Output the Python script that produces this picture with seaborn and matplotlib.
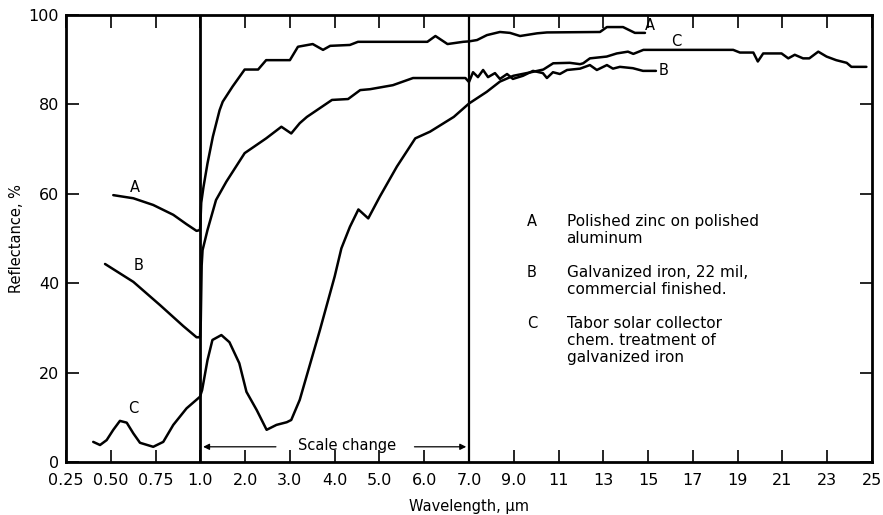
import numpy as np
import pandas as pd
import matplotlib
matplotlib.use("Agg")
import matplotlib.pyplot as plt
import seaborn as sns

# wavelength (um) and reflectance (%)
wl_a = [0.514, 0.626, 0.737, 0.849, 0.923, 0.979, 0.998, 1.0, 1.02, 1.07, 1.16, 1.28, 1.43, 1.5,
        1.72, 1.99, 2.29, 2.47, 3.0, 3.18, 3.51, 3.74, 3.9, 4.34, 4.52, 6.07, 6.25, 6.52, 6.87,
        7.0, 7.36, 7.8, 8.38, 8.83, 9.28, 10.04, 10.48, 12.85, 13.16, 13.88, 14.41, 14.86]
refl_a = [59.7, 59.0, 57.5, 55.3, 53.2, 51.7, 51.9, 53, 58, 61.5, 66.8, 72.8, 78.7, 80.6,
          84, 87.8, 87.8, 89.9, 89.9, 92.9, 93.5, 92.2, 93.1, 93.3, 94, 94, 95.3, 93.5, 94,
          94.1, 94.4, 95.5, 96.2, 96, 95.3, 95.9, 96.1, 96.2, 97.3, 97.3, 96, 96]

wl_b = [0.468, 0.626, 0.775, 0.905, 0.979, 0.998, 1.01, 1.03, 1.05, 1.16, 1.35, 1.58, 1.99,
        2.47, 2.81, 3.03, 3.22, 3.38, 3.94, 4.3, 4.57, 4.79, 5.3, 5.75, 6.92, 7.0, 7.18, 7.4,
        7.63, 7.85, 8.16, 8.38, 8.7, 8.96, 9.41, 9.86, 10.3, 10.48, 10.75, 11.06, 11.38, 11.96,
        12.4, 12.71, 13.16, 13.43, 13.74, 14.32, 14.77, 15.35]
refl_b = [44.3, 40.3, 35.1, 30.4, 27.9, 27.9, 31.5, 44, 47.4, 51.9, 58.6, 62.7, 69.1,
          72.4, 75, 73.5, 75.8, 77.2, 81, 81.2, 83.2, 83.4, 84.3, 85.9, 85.9, 85, 87.2, 86.1,
          87.7, 86.1, 87, 85.7, 86.8, 85.7, 86.4, 87.5, 87, 85.9, 87.2, 86.8, 87.7, 88,
          88.8, 87.7, 88.8, 88, 88.4, 88.1, 87.5, 87.5]

wl_c = [0.402, 0.44, 0.477, 0.514, 0.551, 0.589, 0.626, 0.663, 0.737, 0.793, 0.849, 0.923,
        0.998, 1.04, 1.16, 1.27, 1.47, 1.65, 1.87, 2.03, 2.26, 2.48, 2.7, 2.93, 3.03, 3.22,
        3.67, 4.0, 4.15, 4.34, 4.53, 4.75, 5.01, 5.39, 5.8, 6.13, 6.66, 7.0, 7.79, 8.38, 8.98,
        9.87, 10.32, 10.76, 11.5, 11.96, 12.1, 12.4, 13.15, 13.6, 14.1, 14.34, 14.79, 18.8,
        19.1, 19.7, 19.9, 20.14, 20.96, 21.26, 21.55, 21.92, 22.2, 22.6, 22.97, 23.4, 23.87,
        24.08, 24.75]
refl_c = [4.5, 3.8, 4.9, 7.2, 9.2, 8.8, 6.4, 4.3, 3.4, 4.5, 8.3, 12.0,
          14.6, 16.1, 22.8, 27.3, 28.4, 26.8, 22.1, 15.7, 11.6, 7.2, 8.3, 8.9, 9.4, 13.9,
          29.5, 41.5, 47.8, 52.6, 56.5, 54.5, 59.4, 66.1, 72.4, 73.9, 77.2, 80.2, 82.8, 85.1, 86.4,
          87.3, 87.8, 89.2, 89.3, 89.0, 89.2, 90.3, 90.7, 91.4, 91.8, 91.3, 92.2, 92.2,
          91.6, 91.6, 89.6, 91.4, 91.4, 90.3, 91.1, 90.3, 90.3, 91.8, 90.7, 89.9, 89.3,
          88.4, 88.4]

tick_vals = [0.25, 0.5, 0.75, 1, 2, 3, 4, 5, 6, 7, 9, 11, 13, 15, 17, 19, 21, 23, 25]
tick_labels = ["0.25", "0.50", "0.75", "1.0", "2.0", "3.0", "4.0", "5.0", "6.0", "7.0",
               "9.0", "11", "13", "15", "17", "19", "21", "23", "25"]
scale_breaks = [1.0, 7.0]

legend_keys = ["A", "B", "C"]
legend_lines = [["Polished zinc on polished", "aluminum"],
                ["Galvanized iron, 22 mil,", "commercial finished."],
                ["Tabor solar collector", "chem. treatment of", "galvanized iron"]]

sns.set_style("ticks", {"axes.edgecolor": "black", "text.color": "black",
                        "axes.labelcolor": "black", "xtick.color": "black",
                        "ytick.color": "black"})
plt.rcParams["font.family"] = ["DejaVu Sans"]

# piecewise linear axis: three segments with their own scale
xp = [0.25, 1.0, 7.0, 25.0]
up = [0.0, 3.0, 9.0, 18.0]
def fwd(x):
    return np.interp(x, xp, up)
def inv(u):
    return np.interp(u, up, xp)

fig = plt.figure(figsize=(8.83, 5.15), dpi=100)
ax = fig.add_axes([66 / 883, 1 - 462 / 515, 806 / 883, 447 / 515])
ax.set_xscale("function", functions=(fwd, inv))

for wl, refl in [(wl_a, refl_a), (wl_b, refl_b), (wl_c, refl_c)]:
    df = pd.DataFrame({"wl": wl, "refl": refl})
    sns.lineplot(data=df, x="wl", y="refl", color="black", lw=1.8,
                 estimator=None, sort=False, ax=ax)

for b in scale_breaks:
    ax.axvline(b, color="black", lw=2.0 if b == 1.0 else 1.6)

ax.set_xlim(0.25, 25)
ax.set_ylim(0, 100)
ax.set_xticks(tick_vals)
ax.set_xticklabels(tick_labels)
ax.set_yticks([0, 20, 40, 60, 80, 100])
ax.minorticks_off()
ax.tick_params(axis="both", direction="in", length=9, width=1.2, labelsize=11.5,
               top=True, right=True, pad=8, colors="black")
ax.tick_params(axis="y", pad=5)
for s in ax.spines.values():
    s.set_linewidth(2)
    s.set_color("black")
ax.set_xlabel("Wavelength, \u03bcm", fontsize=10.5, labelpad=8, color="black")
ax.set_ylabel("Reflectance, %", fontsize=10.5, labelpad=3, color="black")

# curve labels
ax.text(0.635, 61.5, "A", fontsize=10.5, ha="center", va="center")
ax.text(0.653, 44, "B", fontsize=10.5, ha="center", va="center")
ax.text(0.626, 12, "C", fontsize=10.5, ha="center", va="center")
ax.text(15.1, 97.6, "A", fontsize=10.5, ha="center", va="center")
ax.text(16.27, 94, "C", fontsize=10.5, ha="center", va="center")
ax.text(15.7, 87.5, "B", fontsize=10.5, ha="center", va="center")

# scale change marker
ax.text(4.27, 3.8, "Scale change", fontsize=10.5, ha="center", va="center")
ax.annotate("", xy=(1.0, 3.4), xytext=(2.75, 3.4),
            arrowprops=dict(arrowstyle="-|>", color="black", lw=0.9, mutation_scale=9))
ax.annotate("", xy=(7.0, 3.4), xytext=(5.72, 3.4),
            arrowprops=dict(arrowstyle="-|>", color="black", lw=0.9, mutation_scale=9))

# legend block
key_y = [53.7, 42.3, 30.9]
for key, lines, y0 in zip(legend_keys, legend_lines, key_y):
    ax.text(9.81, y0, key, fontsize=10.5, ha="center", va="center")
    for i, line in enumerate(lines):
        ax.text(11.36, y0 - i * 3.8, line, fontsize=11, ha="left", va="center")

fig.savefig("out.png", dpi=100)
